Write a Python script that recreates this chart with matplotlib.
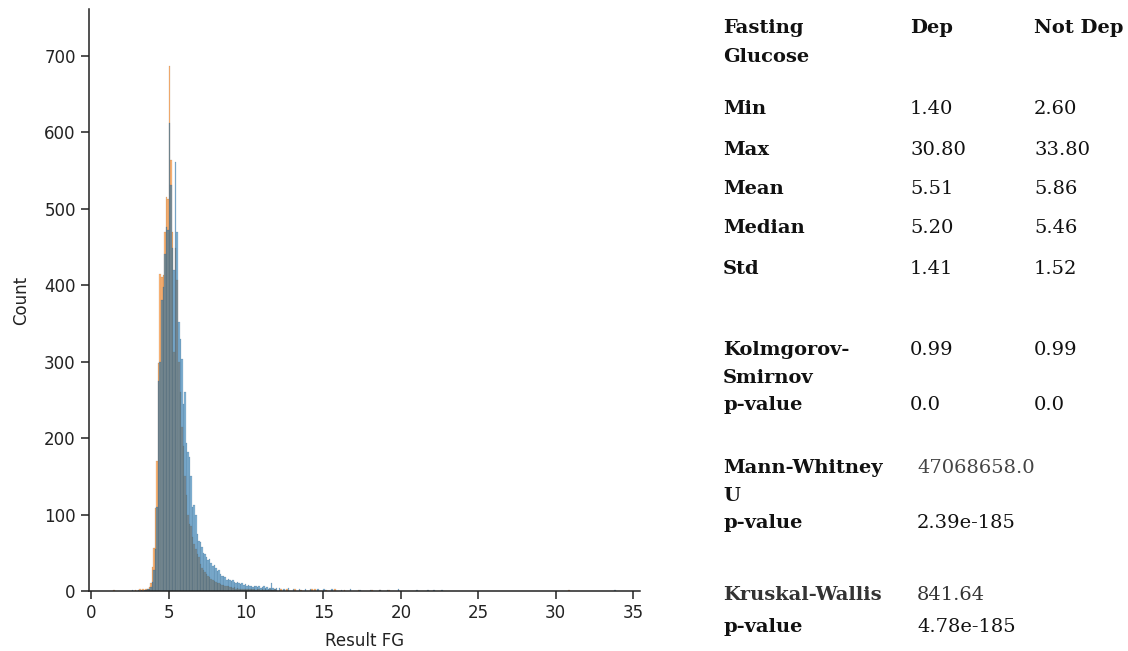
import numpy as np
import matplotlib
matplotlib.use("Agg")
import matplotlib.pyplot as plt

# ---- histogram data (Result FG, bin width 0.1) ----
bin_start = 3.5
bin_width = 0.1

# counts per 0.1 bin from 3.5 to 11.9
dep_counts = [
    2, 3, 5, 10, 31,
    56, 108, 170, 298, 415, 410, 413, 470, 515, 512,
    686, 563, 470, 313, 448, 406, 300, 260, 215, 190,
    150, 125, 100, 88, 85, 70, 62, 55, 48, 45,
    35, 30, 28, 25, 22, 20, 18, 16, 15, 13,
    12, 11, 10, 9, 8, 8, 7, 6, 6, 5,
    5, 4, 5, 3, 4, 3, 3, 2, 3, 2,
    3, 2, 3, 2, 2, 3, 1, 2, 2, 1,
    2, 1, 2, 1, 1, 2, 1, 1, 2, 1,
]
notdep_counts = [
    1, 2, 3, 5, 12,
    28, 55, 110, 274, 300, 380, 398, 440, 476, 472,
    612, 531, 448, 420, 561, 469, 352, 330, 303, 245,
    260, 193, 182, 175, 150, 110, 112, 100, 75, 66,
    64, 58, 50, 49, 45, 40, 42, 37, 33, 34,
    30, 26, 28, 22, 20, 19, 18, 15, 16, 14,
    13, 14, 12, 11, 12, 10, 9, 10, 8, 9,
    7, 8, 6, 7, 5, 6, 7, 5, 6, 4,
    5, 6, 4, 5, 3, 4, 10, 4, 3, 4,
]

# sparse observations outside the main range (value, count)
dep_extra_values = [1.4, 2.8, 3.1, 3.3, 12.2, 12.6, 13.1, 13.5, 14.2, 14.4,
                    15.1, 15.7, 16.3, 17.2, 18.1, 18.6, 19.2, 30.8]
dep_extra_counts = [1, 1, 2, 2, 2, 2, 2, 1, 2, 3,
                    1, 2, 1, 1, 1, 1, 1, 1]
notdep_extra_values = [2.6, 3.0, 3.2, 3.4, 12.1, 12.4, 12.7, 13.0, 13.4, 13.8,
                       14.1, 14.6, 15.0, 15.5, 16.1, 16.7, 17.3, 18.0, 18.6,
                       19.1, 19.8, 21.0, 21.7, 22.1, 22.6, 33.8]
notdep_extra_counts = [1, 1, 1, 1, 4, 3, 4, 3, 3, 2,
                       3, 2, 2, 2, 1, 2, 1, 1, 1,
                       1, 2, 1, 1, 1, 1, 1]

# ---- summary table ----
col_headers = ["Dep", "Not Dep"]
stat_names = ["Min", "Max", "Mean", "Median", "Std"]
dep_stats = ["1.40", "30.80", "5.51", "5.20", "1.41"]
notdep_stats = ["2.60", "33.80", "5.86", "5.46", "1.52"]
ks_values = ["0.99", "0.99"]
ks_pvalues = ["0.0", "0.0"]
mw_u = "47068658.0"
mw_p = "2.39e-185"
kw_h = "841.64"
kw_p = "4.78e-185"

W, H = 1128, 651
fig = plt.figure(figsize=(W / 100, H / 100), dpi=100)
ax = fig.add_axes([89 / W, 60 / H, (640 - 89) / W, (591 - 9) / H])

# common bin grid over the full range
n_grid = 340
edges = np.round(1.0 + bin_width * np.arange(n_grid + 1), 2)
offset = int(round((bin_start - 1.0) / bin_width))


def grid_heights(main_counts, extra_values, extra_counts):
    h = np.zeros(n_grid)
    h[offset:offset + len(main_counts)] += np.asarray(main_counts, float)
    extra, _ = np.histogram(np.asarray(extra_values) + 1e-6, bins=edges,
                            weights=extra_counts)
    return h + extra


series = [
    (grid_heights(dep_counts, dep_extra_values, dep_extra_counts),
     "#ff7f0e", (0.45, 0.22, 0.0, 0.35)),
    (grid_heights(notdep_counts, notdep_extra_values, notdep_extra_counts),
     "#1f77b4", (0.05, 0.2, 0.35, 0.35)),
]
for heights, color, edge in series:
    keep = heights > 0
    ax.bar(edges[:-1][keep], heights[keep], width=bin_width, align="edge",
           color=color, alpha=0.55, edgecolor=edge, linewidth=0.15)

ax.set_xlim(-0.15, 35.45)
ax.set_ylim(0, 761)
ax.set_xticks(np.arange(0, 36, 5))
ax.set_yticks(np.arange(0, 701, 100))
ax.tick_params(labelsize=12, length=5.5, width=1.1, pad=4,
               color="#222222", labelcolor="#222222")
for side in ("top", "right"):
    ax.spines[side].set_visible(False)
for side in ("left", "bottom"):
    ax.spines[side].set_linewidth(1.1)
    ax.spines[side].set_color("#222222")
ax.set_xlabel("Result FG", fontsize=12, color="#222222", labelpad=7)
ax.set_ylabel("Count", fontsize=12, color="#222222", labelpad=10)


# ---- table text (pixel coordinates, baseline-anchored) ----
def put(x, y, s, bold=False, color="#111111", size=14):
    fig.text(x / W, 1 - y / H, s, ha="left", va="baseline",
             fontsize=size, family="DejaVu Serif",
             fontweight="bold" if bold else "normal", color=color)


label_x, dep_x, notdep_x, single_x = 723, 910, 1034, 917

put(label_x, 33, "Fasting", bold=True)
put(label_x, 62, "Glucose", bold=True)
put(dep_x, 33, col_headers[0], bold=True)
put(notdep_x, 33, col_headers[1], bold=True)

row_baselines = [114, 155, 194, 233, 274]
for y, name, d, n in zip(row_baselines, stat_names, dep_stats, notdep_stats):
    put(label_x, y, name, bold=True)
    put(dep_x, y, d)
    put(notdep_x, y, n)

put(label_x, 355, "Kolmgorov-", bold=True)
put(label_x, 383, "Smirnov", bold=True)
put(label_x, 410, "p-value", bold=True)
put(dep_x, 355, ks_values[0])
put(notdep_x, 355, ks_values[1])
put(dep_x, 410, ks_pvalues[0])
put(notdep_x, 410, ks_pvalues[1])

put(label_x, 473, "Mann-Whitney", bold=True)
put(label_x, 501, "U", bold=True)
put(label_x, 528, "p-value", bold=True)
put(single_x, 473, mw_u, color="#444444")
put(single_x, 528, mw_p)

put(label_x, 600, "Kruskal-Wallis", bold=True, color="#333333")
put(label_x, 632, "p-value", bold=True)
put(single_x, 600, kw_h, color="#333333")
put(single_x, 632, kw_p)

fig.savefig("out.png", dpi=100, facecolor="white")
